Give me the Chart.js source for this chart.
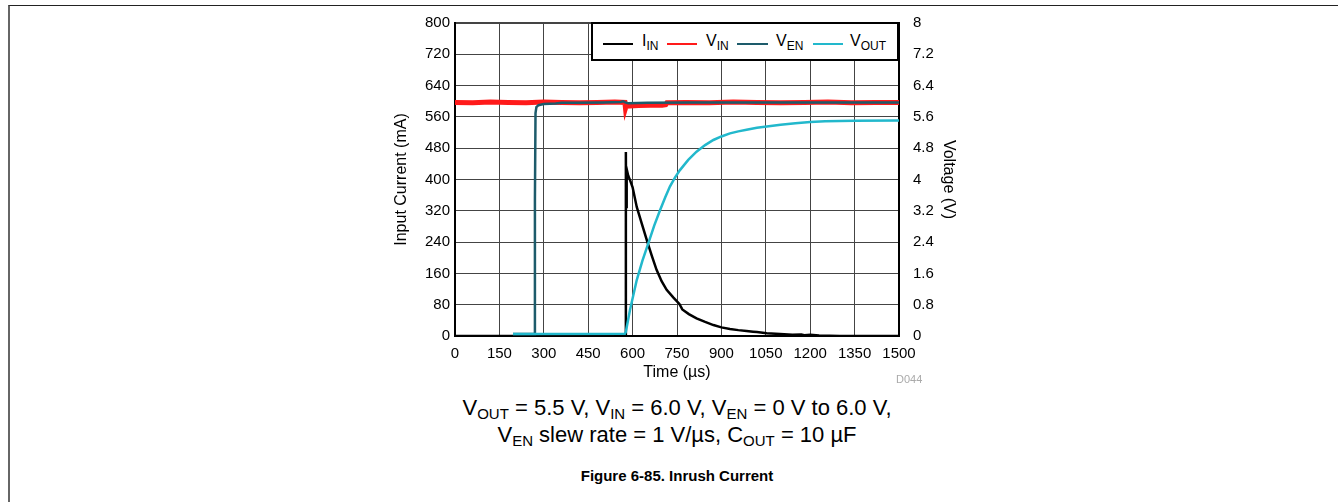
<!DOCTYPE html>
<html>
<head>
<meta charset="utf-8">
<script src="https://cdn.jsdelivr.net/npm/chart.js@4.4.1/dist/chart.umd.min.js"></script>
<style>
  body { margin: 0; background: #fff; font-family: "Liberation Sans", Arial, sans-serif; }
  #page { position: relative; width: 1338px; height: 502px; overflow: hidden; }
  #frame { position: absolute; left: 8px; top: 5px; right: 0; bottom: -10px;
           border-top: 1px solid #222; border-left: 2px solid #666; }
  #myChart { position: absolute; left: 388px; top: 0; }
  #legend { position: absolute; left: 591px; top: 22px; width: 304px; height: 35px;
            border: 2px solid #000; background: #fff; font-size: 16px; color: #000; }
  .item { position: absolute; top: 8px; white-space: nowrap; }
  .swatch { position: absolute; height: 2px; top: 19px; }
  #legend sub { font-size: 12px; vertical-align: -4px; }
  .cap sub { font-size: 15px; vertical-align: -4px; }
  .cap { position: absolute; left: 377px; width: 600px; text-align: center; color: #000; }
  #d044 { position: absolute; left: 896px; top: 373px; font-size: 11px; color: #aaa; }
</style>
</head>
<body>
<div id="page">
  <div id="frame"></div>
  <canvas id="myChart" width="574" height="384"></canvas>
  <div id="legend">
    <div class="swatch" style="left:10px;width:30px;background:#000"></div>
    <div class="item" style="left:49px">I<sub>IN</sub></div>
    <div class="swatch" style="left:74px;width:30px;background:#ff1a1a"></div>
    <div class="item" style="left:113px">V<sub>IN</sub></div>
    <div class="swatch" style="left:144px;width:31px;background:#1d5b6b"></div>
    <div class="item" style="left:183px">V<sub>EN</sub></div>
    <div class="swatch" style="left:220px;width:30px;background:#22b8cc"></div>
    <div class="item" style="left:257px">V<sub>OUT</sub></div>
  </div>
  <div id="d044">D044</div>
  <div class="cap" style="top:395px;font-size:22px">V<sub>OUT</sub> = 5.5 V, V<sub>IN</sub> = 6.0 V, V<sub>EN</sub> = 0 V to 6.0 V,</div>
  <div class="cap" style="top:422px;font-size:22px">V<sub>EN</sub> slew rate = 1 V/µs, C<sub>OUT</sub> = 10 µF</div>
  <div class="cap" style="top:467px;font-size:15px;font-weight:bold">Figure 6-85. Inrush Current</div>
</div>
<script>
// tick labels
let timeTicks = [0, 150, 300, 450, 600, 750, 900, 1050, 1200, 1350, 1500];
let currentTicks = [0, 80, 160, 240, 320, 400, 480, 560, 640, 720, 800];
let voltTicks = [0, 0.8, 1.6, 2.4, 3.2, 4, 4.8, 5.6, 6.4, 7.2, 8];

// I_IN (mA)
let tIin = [0, 576, 577, 577.5, 578, 580, 582, 585, 591, 600, 614, 630, 648, 665, 681, 698, 715, 738, 758, 768, 790, 816, 845, 873, 900, 929, 957, 985, 1007, 1020, 1053, 1098, 1140, 1170, 1180, 1200, 1230, 1300, 1500];
let iIn = [0, 0, 250, 470, 330, 400, 420, 410, 399, 380, 330, 290, 245, 205, 169, 140, 118, 98, 82, 68, 56, 45, 36, 28, 22, 18, 15, 13, 11, 10, 7, 5, 3, 4, 2, 3, 1, 0, 0];

// V_IN (V)
let tVin = [0, 60, 120, 180, 240, 300, 360, 420, 480, 540, 574, 576, 578, 590, 620, 660, 700, 712, 716, 780, 860, 940, 1020, 1100, 1180, 1260, 1340, 1420, 1500];
let vIn = [5.97, 5.96, 5.98, 5.97, 5.96, 5.98, 5.97, 5.96, 5.97, 5.98, 5.97, 5.82, 5.87, 5.88, 5.89, 5.9, 5.9, 5.91, 5.96, 5.97, 5.96, 5.98, 5.97, 5.96, 5.97, 5.98, 5.96, 5.97, 5.97];

// V_EN (V)
let tEn = [196, 268, 270, 272, 275, 282, 300, 340, 360, 400, 500, 560, 568, 575, 585, 650, 800, 1500];
let vEn = [0.05, 0.05, 3.5, 5.7, 5.85, 5.9, 5.93, 5.94, 5.96, 5.96, 5.97, 5.98, 6.0, 5.97, 5.95, 5.96, 5.97, 5.97];

// V_OUT (V)
let tOut = [196, 574, 577, 591, 614, 633, 653, 673, 693, 710, 726, 743, 760, 788, 816, 845, 873, 900, 929, 957, 985, 1020, 1060, 1100, 1150, 1200, 1250, 1350, 1500];
let vOut = [0.05, 0.06, 0.1, 0.66, 1.43, 1.92, 2.37, 2.82, 3.22, 3.54, 3.82, 4.05, 4.24, 4.5, 4.71, 4.88, 5.01, 5.1, 5.18, 5.23, 5.27, 5.32, 5.36, 5.4, 5.44, 5.47, 5.49, 5.5, 5.51];

function pts(xs, ys) {
  return xs.map((x, i) => ({ x: x, y: ys[i] }));
}

const tickFont = { family: '"Liberation Sans", Arial, sans-serif', size: 15 };
const titleFont = { family: '"Liberation Sans", Arial, sans-serif', size: 16 };

function gridWidth(maxVal) {
  return (c) => (c.tick && c.tick.value === maxVal ? 2 : 1);
}

const ctx = document.getElementById('myChart').getContext('2d');
const myChart = new Chart(ctx, {
  type: 'line',
  data: {
    datasets: [
      { label: 'VOUT', data: pts(tOut, vOut), yAxisID: 'yV', borderColor: '#22b8cc', borderWidth: 2.5, order: 0 },
      { label: 'VEN', data: pts(tEn, vEn), yAxisID: 'yV', borderColor: '#1d5b6b', borderWidth: 2.5, order: 1 },
      { label: 'IIN', data: pts(tIin, iIn), yAxisID: 'yI', borderColor: '#000', borderWidth: 2.5, order: 2 },
      { label: 'VIN', data: pts(tVin, vIn), yAxisID: 'yV', borderColor: '#ff1a1a', borderWidth: 5, order: 3 }
    ]
  },
  options: {
    responsive: false,
    animation: false,
    devicePixelRatio: 1,
    layout: { padding: { top: 23, left: 0, right: 0, bottom: 0 } },
    elements: { point: { radius: 0 }, line: { tension: 0 } },
    plugins: { legend: { display: false }, tooltip: { enabled: false } },
    scales: {
      x: {
        type: 'linear', min: 0, max: 1500,
        afterFit: (s) => { s.height = 48; },
        afterBuildTicks: (s) => { s.ticks = timeTicks.map(v => ({ value: v })); },
        ticks: { font: tickFont, color: '#000', padding: 9, maxRotation: 0, autoSkip: false, callback: (v) => String(v) },
        grid: { color: '#444', lineWidth: gridWidth(1500), drawTicks: false },
        border: { color: '#000', width: 2 },
        title: { display: true, text: 'Time (µs)', font: titleFont, color: '#000', padding: { top: 0, bottom: 2 } }
      },
      yI: {
        type: 'linear', position: 'left', min: 0, max: 800,
        afterFit: (s) => { s.width = 67; },
        afterBuildTicks: (s) => { s.ticks = currentTicks.map(v => ({ value: v })); },
        ticks: { font: tickFont, color: '#000', padding: 5 },
        grid: { color: '#444', lineWidth: gridWidth(800), drawTicks: false },
        border: { color: '#000', width: 2 },
        title: { display: true, text: 'Input Current (mA)', font: titleFont, color: '#000', padding: { top: 4, bottom: 0 } }
      },
      yV: {
        type: 'linear', position: 'right', min: 0, max: 8,
        afterFit: (s) => { s.width = 63; },
        afterBuildTicks: (s) => { s.ticks = voltTicks.map(v => ({ value: v })); },
        ticks: { font: tickFont, color: '#000', padding: 6, callback: (v) => String(Math.round(v * 10) / 10) },
        grid: { display: false },
        border: { color: '#000', width: 2 },
        title: { display: true, text: 'Voltage (V)', font: titleFont, color: '#000', padding: { top: 4, bottom: 0 } }
      }
    }
  }
});
</script>
</body>
</html>
